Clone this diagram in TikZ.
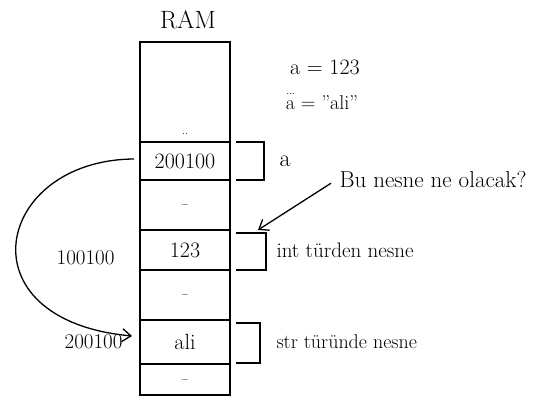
\documentclass[tikz,border=0pt]{standalone}
\usepackage{amsmath}
\usepackage{fontspec}
\usepackage{tikz}
\usetikzlibrary{positioning, arrows.meta}

\begin{document}
\begin{tikzpicture}[
      x=1pt, y=-1pt,
      node distance=0pt and 0pt,
      cell/.style={draw, line width=1.4pt, outer sep=0pt, inner sep=0pt, minimum width=90pt, font=\fontsize{22}{24}\selectfont},
      gap/.style={cell, font=\normalsize},
      note/.style={font=\fontsize{20}{22}\selectfont},
      eqn/.style={inner sep=1pt},
      brace/.style={line width=1.2pt},
      arr/.style={-{Straight Barb[length=3mm, width=4.5mm]}, line width=1.3pt}
    ]
    \useasboundingbox (0,0) rectangle (545,398);
    \node[font=\fontsize{25}{28}\selectfont] (ram) at (188,20) {RAM};
    \node[cell, minimum height=100pt, anchor=north] (top) at (185,42) {};
    \node[font=\normalsize, above=4pt of top.south] (topdots) {..};
    \node[cell, minimum height=38pt, below=0pt of top] (a1) {200100};
    \node[gap, minimum height=50pt, below=0pt of a1] (g1) {\dots};
    \node[cell, minimum height=40pt, below=0pt of g1] (n1) {123};
    \node[gap, minimum height=50pt, below=0pt of n1] (g2) {\dots};
    \node[cell, minimum height=44pt, below=0pt of g2] (s1) {ali};
    \node[gap, minimum height=31pt, below=0pt of s1] (g3) {\dots};

    \draw[brace] ([xshift=6pt]a1.north east) -| ([xshift=34pt]a1.south east) -- ([xshift=6pt]a1.south east);
    \draw[brace] ([xshift=6pt,yshift=-3pt]n1.north east) -| ([xshift=36pt]n1.south east) -- ([xshift=6pt]n1.south east);
    \draw[brace] ([xshift=6pt,yshift=-3pt]s1.north east) -| ([xshift=30pt,yshift=1pt]s1.south east) -- ([xshift=6pt,yshift=1pt]s1.south east);

    \node[note, font=\fontsize{24}{26}\selectfont, right=46pt of a1.east] (lbla) {a};
    \node[note, font=\fontsize{21}{24}\selectfont, right=43pt of n1.east] (lbln) {int türden nesne};
    \node[note, right=43pt of s1.east] (lbls) {str türünde nesne};
    \node[note, font=\fontsize{21}{24}\selectfont, left=22pt of n1.west, yshift=-8pt] (addr1) {100100};
    \node[note, font=\fontsize{21}{24}\selectfont, left=14pt of s1.west] (addr2) {200100};

    \node[eqn, font=\fontsize{22}{24}\selectfont] (eq1) at (325,67) {a = 123};
    \node[eqn, font=\fontsize{20}{22}\selectfont] (eq2) at (322,100) {$\overset{\scriptscriptstyle\cdots}{\mathrm{a}}$ = "ali"};

    \node[note, font=\fontsize{23}{26}\selectfont, anchor=west] (q) at (336,180) {Bu nesne ne olacak?};
    \coordinate (qend) at ([xshift=28pt]n1.north east);
    \draw[arr, shorten <=6pt] (q.west) -- (qend);

    \draw[arr] ([xshift=-6pt,yshift=2pt]a1.west) .. controls (-5,160) and (-40,320) .. ([xshift=-8pt,yshift=6pt]s1.west);
  \end{tikzpicture}
\end{document}
